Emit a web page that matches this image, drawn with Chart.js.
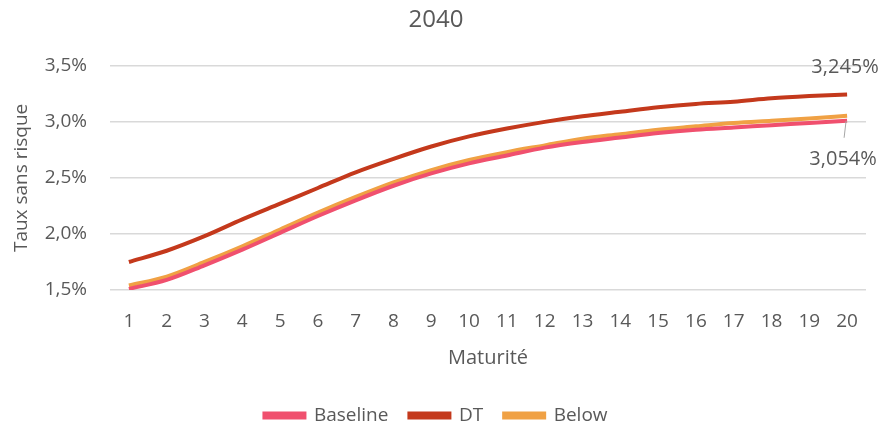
<!DOCTYPE html>
<html>
<head>
<meta charset="utf-8">
<script src="https://cdn.jsdelivr.net/npm/chart.js@4.4.1/dist/chart.umd.min.js"></script>
<style>
  html, body { margin: 0; padding: 0; background: #fff; }
  #wrap { width: 884px; height: 429px; }
</style>
</head>
<body>
<div id="wrap"><canvas id="graf" width="884" height="429"></canvas></div>
<script>
const maturites = ["1","2","3","4","5","6","7","8","9","10","11","12","13","14","15","16","17","18","19","20"];
const baseline = [1.51, 1.59, 1.72, 1.86, 2.01, 2.16, 2.30, 2.43, 2.54, 2.63, 2.70, 2.77, 2.82, 2.86, 2.90, 2.93, 2.95, 2.97, 2.99, 3.01];
const dt = [1.75, 1.85, 1.98, 2.13, 2.27, 2.41, 2.55, 2.67, 2.78, 2.87, 2.94, 3.00, 3.05, 3.09, 3.13, 3.16, 3.18, 3.21, 3.23, 3.245];
const below = [1.54, 1.62, 1.75, 1.89, 2.04, 2.19, 2.33, 2.46, 2.57, 2.66, 2.73, 2.79, 2.85, 2.89, 2.93, 2.96, 2.99, 3.01, 3.03, 3.054];

const gris = "#595959";
const police = "'Open Sans', 'Liberation Sans', sans-serif";

// etiquettes de fin de courbe (DT au-dessus, Below en dessous avec un petit trait)
const etiquettes_fin = {
  id: "etiquettesFin",
  afterDatasetsDraw: (chart) => {
    const ctx = chart.ctx;
    ctx.save();
    ctx.font = "20px " + police;
    ctx.fillStyle = gris;
    ctx.textAlign = "center";
    ctx.textBaseline = "middle";

    const pDT = chart.getDatasetMeta(1).data[19];
    ctx.fillText("3,245%", pDT.x - 2, pDT.y - 27);

    const pB = chart.getDatasetMeta(2).data[19];
    ctx.strokeStyle = "#a6a6a6";
    ctx.lineWidth = 1;
    ctx.beginPath();
    ctx.moveTo(pB.x - 1, pB.y + 5);
    ctx.lineTo(pB.x - 3, pB.y + 22);
    ctx.stroke();
    ctx.fillText("3,054%", pB.x - 4, pB.y + 44);
    ctx.restore();
  },
};

const ctx = document.getElementById("graf").getContext("2d");
new Chart(ctx, {
  type: "line",
  data: {
    labels: maturites,
    datasets: [
      { label: "Baseline", data: baseline, borderColor: "#f0506e", backgroundColor: "#f0506e" },
      { label: "DT", data: dt, borderColor: "#c4391c", backgroundColor: "#c4391c" },
      { label: "Below", data: below, borderColor: "#f0a144", backgroundColor: "#f0a144" },
    ].map((d) => Object.assign(d, {
      borderWidth: 4,
      pointRadius: 0,
      tension: 0.4,
      cubicInterpolationMode: "monotone",
      fill: false,
    })),
  },
  options: {
    responsive: false,
    animation: false,
    layout: { padding: { left: 6, right: 18, top: 4, bottom: -6 } },
    plugins: {
      title: {
        display: true,
        text: "2040",
        color: gris,
        font: { family: police, size: 24, weight: "normal" },
        padding: { top: 2, bottom: 31 },
      },
      legend: {
        position: "bottom",
        labels: {
          color: gris,
          font: { family: police, size: 19 },
          boxWidth: 40,
          boxHeight: 4,
          padding: 21,
        },
      },
      tooltip: { enabled: false },
    },
    scales: {
      x: {
        offset: true,
        grid: { display: false, drawTicks: false },
        border: { display: false },
        ticks: { color: gris, font: { family: police, size: 19, lineHeight: 1 }, padding: 22 },
        title: {
          display: true,
          text: "Maturité",
          color: gris,
          font: { family: police, size: 20, lineHeight: 1 },
          padding: { top: -5, bottom: 17 },
        },
      },
      y: {
        min: 1.5,
        max: 3.5,
        afterFit: (scale) => {
          scale.width = 104; // largeur fixe de l'axe pour caler la zone de tracé
        },
        grid: { color: "#d9d9d9", lineWidth: 1.5, drawTicks: false },
        border: { display: false },
        ticks: {
          stepSize: 0.5,
          color: gris,
          font: { family: police, size: 19 },
          padding: 23,
          callback: (v) => v.toFixed(1).replace(".", ",") + "%",
        },
        title: {
          display: true,
          text: "Taux sans risque",
          color: gris,
          font: { family: police, size: 19 },
          padding: { top: 4, bottom: 0 },
        },
      },
    },
  },
  plugins: [etiquettes_fin],
});
</script>
</body>
</html>
